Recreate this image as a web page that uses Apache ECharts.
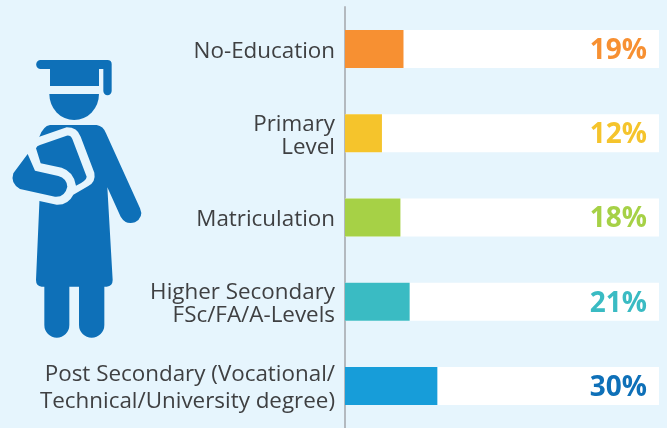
<!DOCTYPE html>
<html>
<head>
<meta charset="utf-8">
<style>
	html, body { margin: 0; padding: 0; background: #e6f5fd; }
	#chart-container { width: 667px; height: 428px; }
</style>
<script src="https://cdn.jsdelivr.net/npm/echarts@6/dist/echarts.min.js"></script>
</head>
<body>
<div id="chart-container"></div>
<script>
const categories = ['No-Education', 'Primary\nLevel', 'Matriculation', 'Higher Secondary\nFSc/FA/A-Levels', 'Post Secondary (Vocational/\nTechnical/University degree)'];
const shares = [19, 12, 18, 21, 30];
const trackValues = [102, 102, 102, 102, 102];
const barColors = ['#f79032', '#f5c42c', '#a6d146', '#3abbc3', '#179dd9'];
const labelColors = ['#f79032', '#f5c42c', '#a6d146', '#3abbc3', '#0e70b8'];

const bg = '#e6f5fd';
const iconBlue = '#0e70b8';
const font = 'Open Sans';

// icon paths are in 3x px of the crop, scaled back in the custom series
const capPath = 'M122 60 L322 60 Q335 60 335 72 L335 153 A12 12 0 0 1 310 153 L310 87 L297 87 L297 138 L150 138 L150 87 L122 87 A13.5 13.5 0 0 1 122 60 Z';
const headPath = 'M148 162 L297 162 A74.5 78 0 0 1 148 162 Z';
const gownPath = 'M150 255 L290 255 Q310 258 318 280 L420 505 Q432 532 405 547 Q378 556 362 530 L322 442 L338 720 Q338 738 320 740 L313 740 L313 855 A38 38 0 0 1 237 855 L237 740 L208 740 L208 855 A37.5 38 0 0 1 133 855 L133 740 L125 740 Q108 738 108 720 L122 400 L118 290 Q130 258 150 255 Z';
const bookGapPath = 'M118 290 L200 262 Q232 262 242 290 L283 398 Q288 425 265 438 L220 464 Q205 495 170 494 L60 470 L25 400 L85 330 Z';
const bookPath = 'M108 325 Q110 318 120 315 L200 287 Q212 285 217 297 L260 410 Q260 422 228 437 Q222 395 185 383 L122 370 Z';
const armPath = 'M83 342 L105 392 L175 408 Q200 415 202 440 Q195 472 165 470 L60 447 Q30 430 40 400 Z';

function iconPart(d, fill) {
	return {
		type: 'path',
		shape: {pathData: d},
		style: {fill: fill}
	};
}

function renderIcon() {
	return {
		type: 'group',
		x: 0,
		y: 40,
		scaleX: 1 / 3,
		scaleY: 1 / 3,
		children: [
			iconPart(capPath, iconBlue),
			iconPart(headPath, iconBlue),
			iconPart(gownPath, iconBlue),
			iconPart(bookGapPath, bg),
			iconPart(bookPath, iconBlue),
			iconPart(armPath, iconBlue)
		]
	};
}

const chart = echarts.init(document.getElementById('chart-container'), null, {renderer: 'canvas'});
chart.setOption({
	animation: false,
	backgroundColor: bg,
	grid: {left: 345, top: 7, width: 314, height: 422.5},
	xAxis: {type: 'value', min: 0, max: 102, show: false},
	yAxis: {
		type: 'category',
		inverse: true,
		data: categories,
		axisLine: {show: true, lineStyle: {color: '#b3b9bf', width: 2}},
		axisTick: {show: false},
		// category names go on the bars' labels so they can sit a little lower
		axisLabel: {show: false}
	},
	series: [
		{
			name: 'track',
			type: 'bar',
			barWidth: 38,
			barGap: '-100%',
			silent: true,
			itemStyle: {color: '#ffffff'},
			label: {
				show: true,
				position: 'insideRight',
				distance: 12,
				offset: [0, 2],
				fontFamily: font,
				fontSize: 28,
				fontWeight: 'bold',
				formatter: p => shares[p.dataIndex] + '%'
			},
			data: trackValues.map((v, i) => ({value: v, label: {color: labelColors[i]}}))
		},
		{
			name: 'share',
			type: 'bar',
			barWidth: 38,
			barGap: '-100%',
			label: {
				show: true,
				position: 'left',
				distance: 10,
				offset: [0, 2.5],
				color: '#3f4042',
				fontFamily: font,
				fontSize: 22.4,
				lineHeight: 23,
				formatter: p => categories[p.dataIndex]
			},
			// the last label sits wider apart in the original
			data: shares.map((v, i) => ({
				value: v,
				itemStyle: {color: barColors[i]},
				label: i == 4 ? {lineHeight: 27} : {}
			}))
		},
		{
			name: 'icon',
			type: 'custom',
			coordinateSystem: 'none',
			silent: true,
			renderItem: renderIcon,
			data: [0]
		}
	]
});
</script>
</body>
</html>
